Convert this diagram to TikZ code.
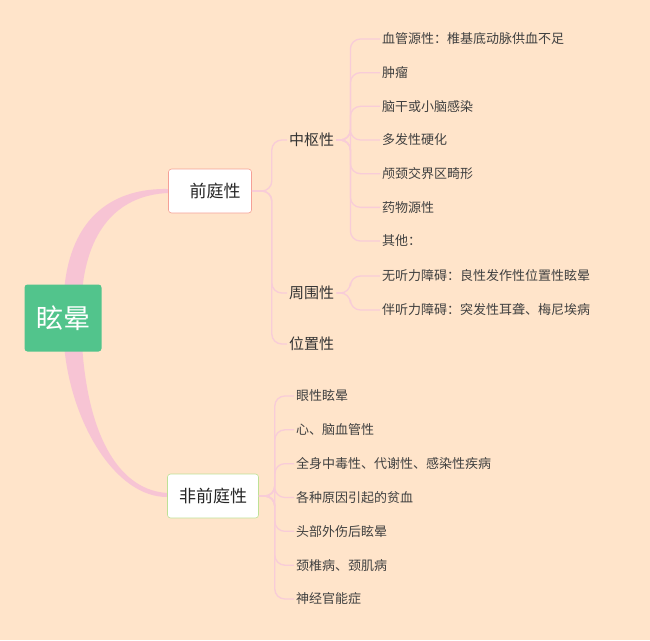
\documentclass[tikz,border=0pt]{standalone}
\usepackage{fontspec}
\setmainfont{Noto Sans CJK SC}
\begin{document}
\begin{tikzpicture}[x=1pt,y=-1pt,
  leaf/.style={anchor=west, inner sep=2pt, font=\fontsize{13}{15}\selectfont, text=black!75},
  mid/.style={anchor=west, inner sep=2pt, font=\fontsize{15}{17}\selectfont, text=black!80},
  big/.style={draw, line width=0.6pt, fill=white, rounded corners=3pt, minimum height=44pt, inner xsep=8pt, font=\fontsize{17}{19}\selectfont, text=black!85}]
\definecolor{bg}{HTML}{FFE4CA}
\definecolor{pk}{HTML}{F7C4D4}
\definecolor{thin}{HTML}{F8CCD8}
\definecolor{rootc}{HTML}{52C48C}
\definecolor{qtb}{HTML}{F5A096}
\definecolor{fqtb}{HTML}{BEE196}
\fill[bg] (0,0) rectangle (650,640);
\useasboundingbox (0,0) rectangle (650,640);
\tikzset{conn/.style={draw=thin, line width=1.3pt, rounded corners=10pt}}
% tapered main branches
\fill[pk] (64,292) .. controls (70,215) and (115,188) .. (168,189) -- (168,193) .. controls (122,195) and (88,225) .. (82,292) -- cycle;
\fill[pk] (64,344) .. controls (70,421) and (115,498) .. (168,497) -- (168,493) .. controls (122,491) and (88,441) .. (82,344) -- cycle;
\node[fill=rootc, rounded corners=3pt, minimum width=77pt, minimum height=67pt, text=white, font=\fontsize{27}{30}\selectfont] (root) at (63,318) {眩晕};
\node[big, draw=qtb, minimum width=83pt] (qt) at (210,191) {\hspace{10pt}前庭性};
\node[big, draw=fqtb, minimum width=91pt] (fqt) at (213,496) {非前庭性};
% level 2
\node[mid] (zs) at (287,140) {中枢性};
\node[mid] (zw) at (287,293) {周围性};
\node[mid] (wz) at (287,344) {位置性};
\foreach \c in {zs,zw,wz} \draw[conn] (qt.east) -- ++(20,0) |- (\c.west);
% central children
\foreach \t [count=\i] in {血管源性：椎基底动脉供血不足,肿瘤,脑干或小脑感染,多发性硬化,颅颈交界区畸形,药物源性,其他：}{
  \pgfmathsetmacro{\yy}{39+33.67*(\i-1)}
  \node[leaf] (z\i) at (380,\yy) {\t};
  \draw[conn] (zs.east) -- ++(14,0) |- (z\i.west);
}
\node[leaf] (w1) at (380,276) {无听力障碍：良性发作性位置性眩晕};
\node[leaf] (w2) at (380,310) {伴听力障碍：突发性耳聋、梅尼埃病};
\foreach \c in {w1,w2} \draw[conn] (zw.east) -- ++(14,0) |- (\c.west);
% non vestibular
\foreach \t [count=\i] in {眼性眩晕,心、脑血管性,全身中毒性、代谢性、感染性疾病,各种原因引起的贫血,头部外伤后眩晕,颈椎病、颈肌病,神经官能症}{
  \pgfmathsetmacro{\yy}{396+33.83*(\i-1)}
  \node[leaf] (n\i) at (294,\yy) {\t};
  \draw[conn] (fqt.east) -- ++(16,0) |- (n\i.west);
}
\end{tikzpicture}
\end{document}
